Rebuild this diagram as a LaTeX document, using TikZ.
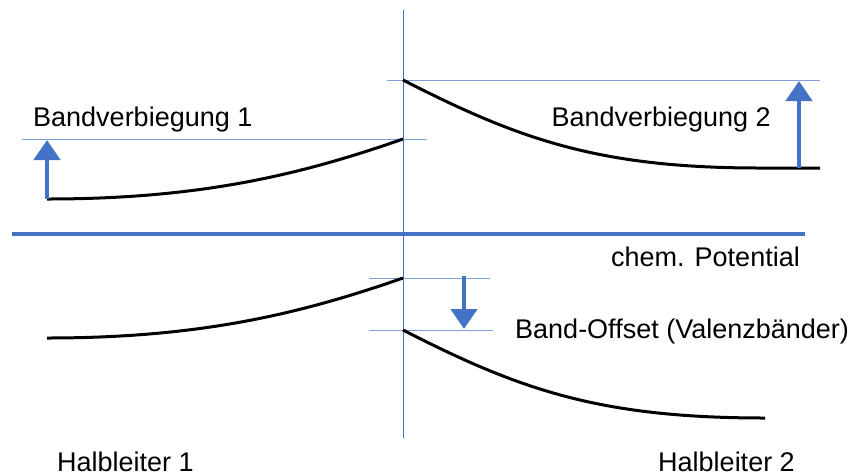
\documentclass[tikz,border=0pt]{standalone}
\usepackage{fontspec}
\setmainfont{Liberation Sans}
\usetikzlibrary{arrows.meta,positioning}
\definecolor{akzent}{HTML}{4472C4}
\definecolor{hilfe}{HTML}{7F9FD8}
\begin{document}
\begin{tikzpicture}[x=1pt,y=-1pt,
every node/.style={inner sep=0pt,font=\fontsize{27}{32}\selectfont},
hilfslinie/.style={draw=hilfe,line width=0.9pt},
band/.style={draw=black,line width=3pt},
pfeil/.style={draw=akzent,line width=4.5pt,-{Triangle[width=26pt,length=20pt]}}]
\useasboundingbox (0,0) rectangle (857,475);
% Grenzflaeche
\coordinate (G1) at (403,10);
\coordinate (G2) at (403,438);
\draw[draw=akzent,line width=0.9pt] (G1)--(G2);
% Hilfslinien
\coordinate (H1a) at (387,80);
\coordinate (H1b) at (820,80);
\coordinate (H2a) at (22,139);
\coordinate (H2b) at (427,139);
\coordinate (H3a) at (369,278);
\coordinate (H3b) at (490,278);
\coordinate (H4a) at (369,330);
\coordinate (H4b) at (493,330);
\draw[hilfslinie] (H1a)--(H1b);
\draw[hilfslinie] (H2a)--(H2b);
\draw[hilfslinie] (H3a)--(H3b);
\draw[hilfslinie] (H4a)--(H4b);
% chemisches Potential
\coordinate (P1) at (12,234);
\coordinate (P2) at (805,234);
\draw[draw=akzent,line width=4pt] (P1)--(P2);
% Baender
\coordinate (L1) at (47,199);
\coordinate (L2) at (403,139);
\coordinate (R1) at (403,80);
\coordinate (R2) at (760,168);
\coordinate (R3) at (820,168);
\coordinate (L3) at (47,338);
\coordinate (L4) at (403,278);
\coordinate (R4) at (403,330);
\coordinate (R5) at (765,418);
\draw[band] (L1) .. controls (200,199) and (300,175) .. (L2);
\draw[band] (R1) .. controls (520,140) and (600,168) .. (R2)--(R3);
\draw[band] (L3) .. controls (200,338) and (300,314) .. (L4);
\draw[band] (R4) .. controls (520,390) and (600,418) .. (R5);
% Pfeile
\coordinate (A1) at (47,199);
\coordinate (A2) at (47,140);
\coordinate (B1) at (799,168);
\coordinate (B2) at (799,81);
\coordinate (C1) at (464,276);
\coordinate (C2) at (464,329);
\draw[pfeil] (A1)--(A2);
\draw[pfeil] (B1)--(B2);
\draw[pfeil] (C1)--(C2);
% Beschriftungen
\node[anchor=base west] (T1) at (33,126) {Bandverbiegung 1};
\node[anchor=base east] (T2) at (771,126) {Bandverbiegung 2};
\node[anchor=base east] (T3) at (800,266) {chem. Potential};
\node[anchor=base west] (T4) at (515,338) {Band-Offset (Valenzbänder)};
\node[anchor=base west] (T5) at (57,471) {Halbleiter 1};
\node[anchor=base east] (T6) at (795,471) {Halbleiter 2};
\end{tikzpicture}
\end{document}
